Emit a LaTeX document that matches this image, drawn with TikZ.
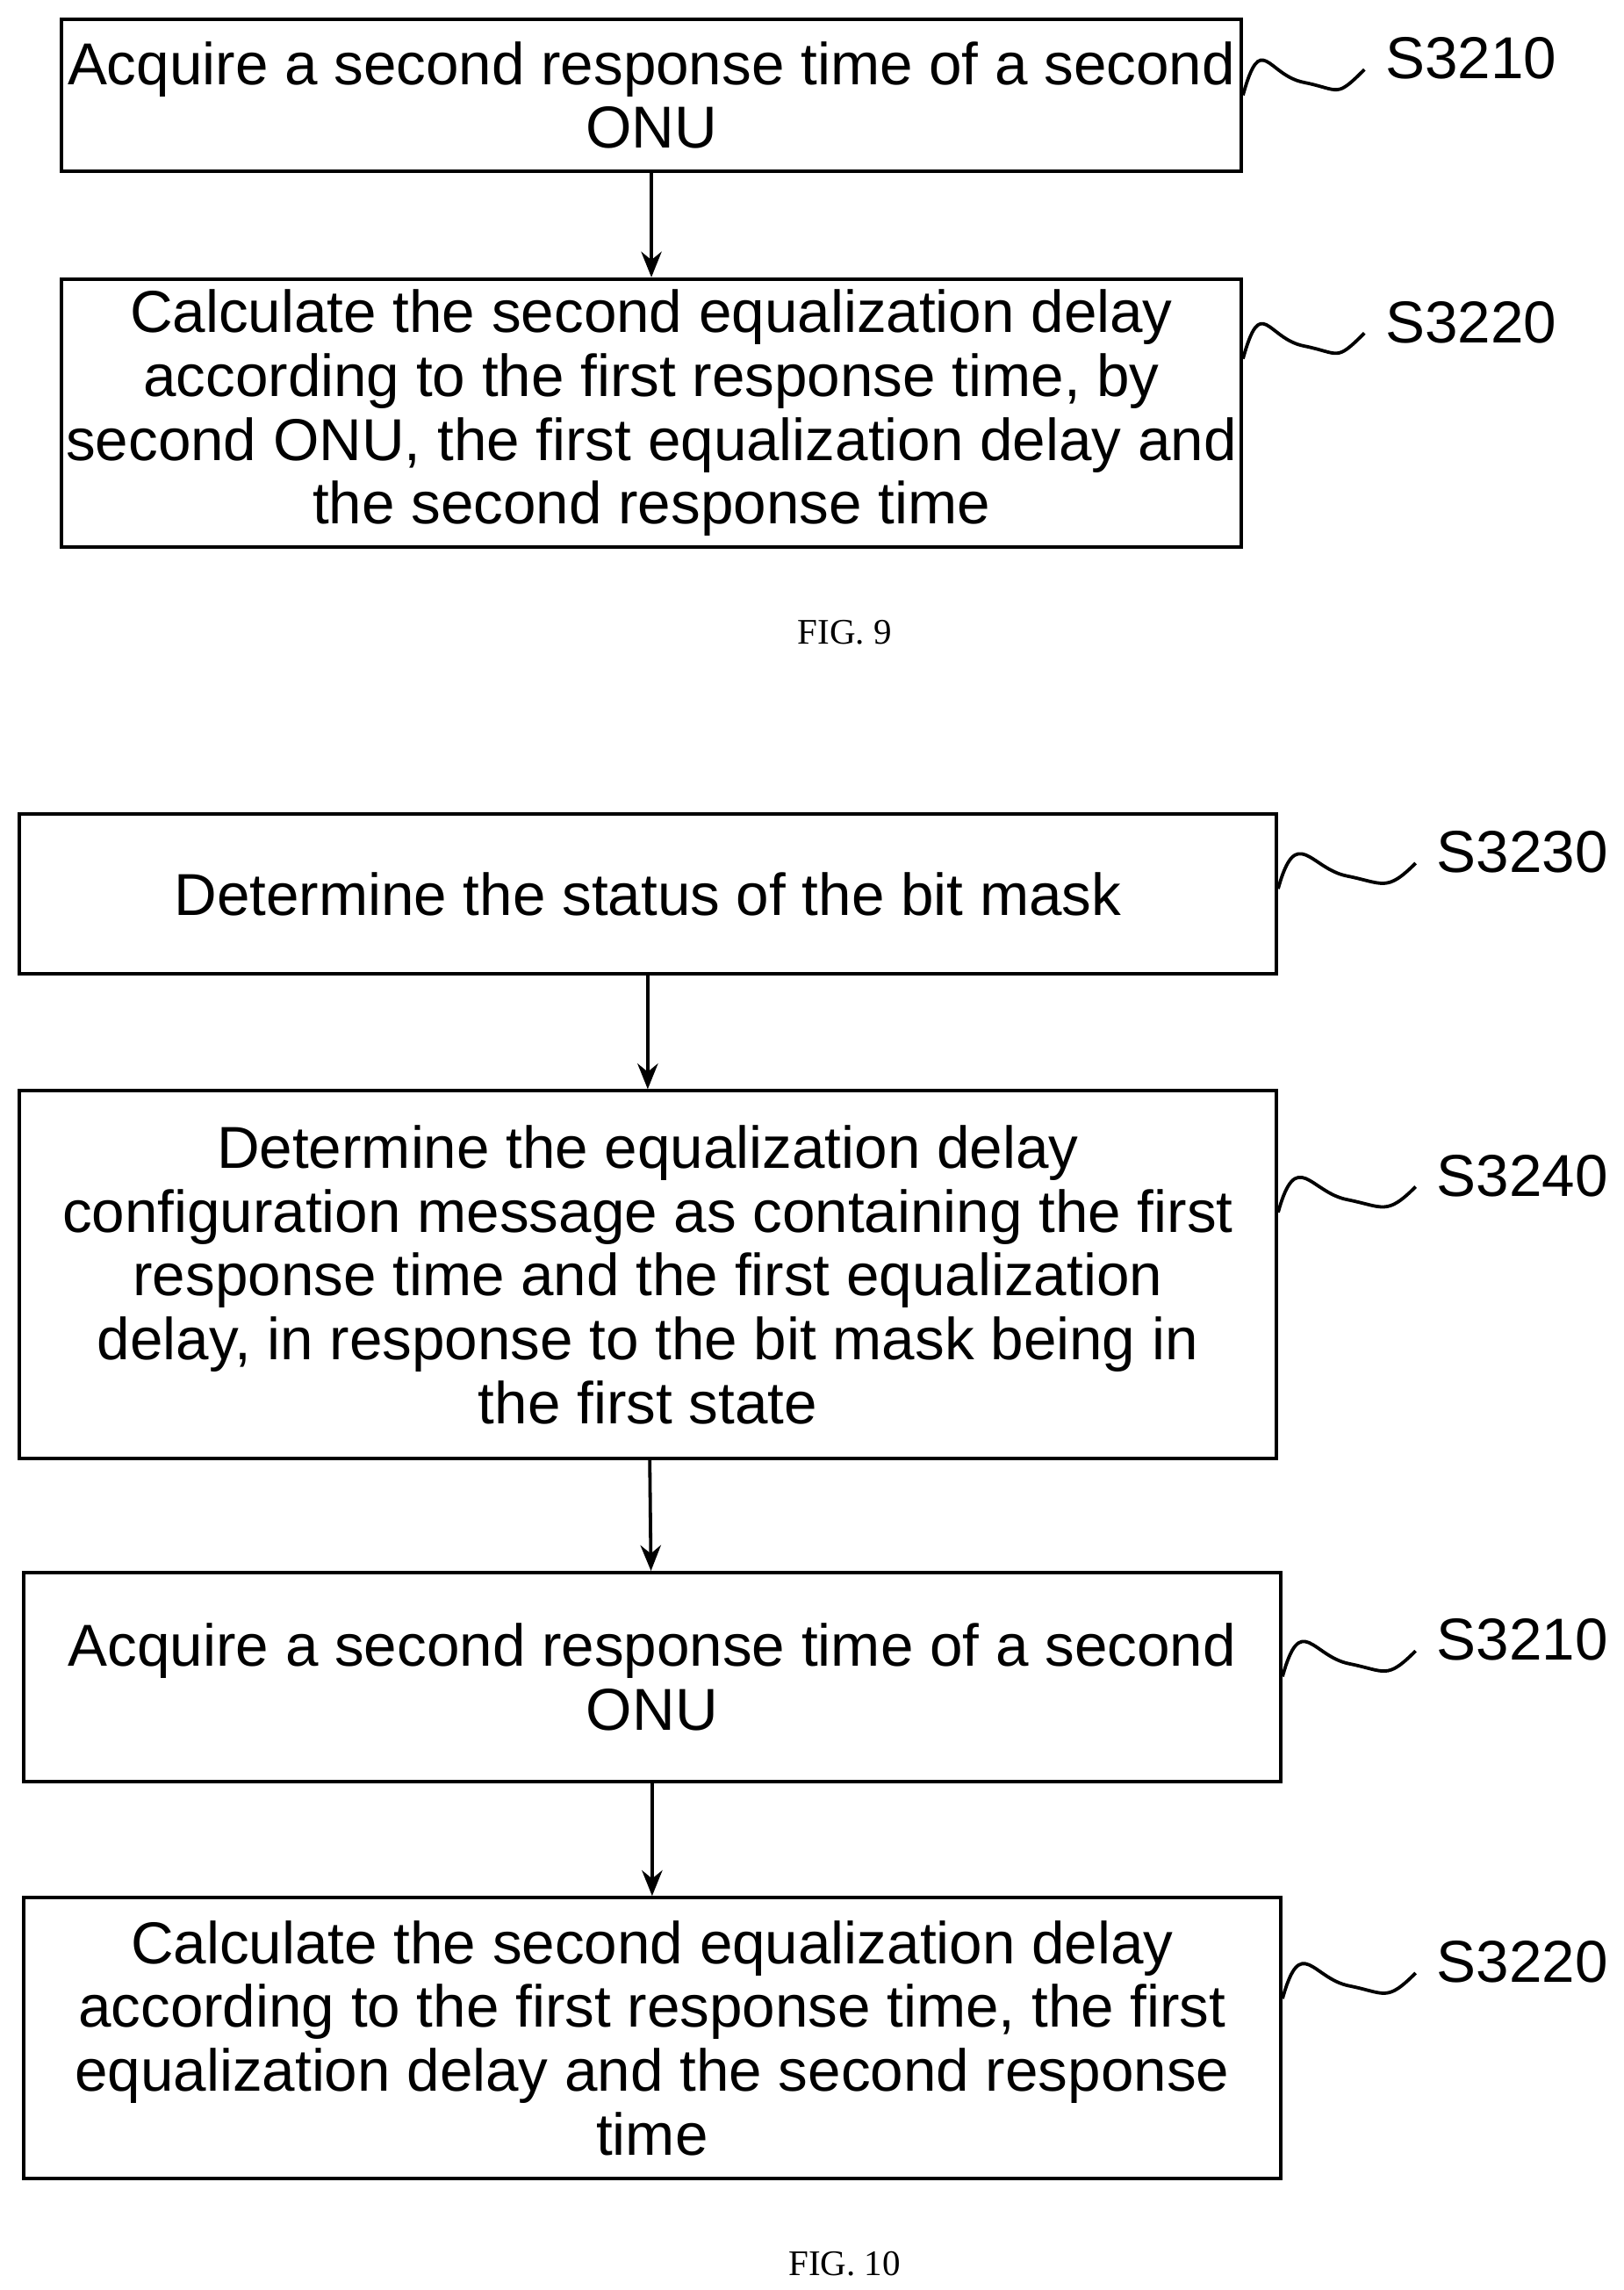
\documentclass[tikz,border=0pt]{standalone}
\usepackage{fontspec}
\setmainfont{Liberation Sans}
\newfontfamily\capfont{Liberation Serif}
\usetikzlibrary{arrows.meta,calc}
\newcommand\squig[2]{%
  \coordinate (#1s) at ([yshift=-0.5cm]#1.east |- #2.west);
  \coordinate (#1e) at ([xshift=-0.15cm,yshift=-0.15cm]#2.west);
  \draw (#1s) .. controls +(0.25,0.9) and +(-0.5,0.1) .. ($(#1s)!0.5!(#1e)$)
        .. controls +(0.5,-0.1) and +(-0.4,-0.4) .. (#1e);}
\begin{document}
\begin{tikzpicture}[line width=1.3pt, >={Stealth[length=3.5mm,width=2.8mm]},
  every node/.style={font=\fontsize{23}{24.8}\selectfont},
  stepbox/.style={draw, line width=1.3pt, align=center, inner sep=0pt},
  lab/.style={anchor=center},
  fig/.style={font=\capfont\fontsize{14}{16}\selectfont}]
  \useasboundingbox (0,0) rectangle (22.18,-31.28);

  % FIG. 9
  \node[stepbox, minimum width=16.12cm, minimum height=2.08cm] (a1) at (8.9,-1.3) {Acquire a second response time of a second\\ONU};
  \node[stepbox, minimum width=16.12cm, minimum height=3.66cm] (a2) at (8.9,-5.64) {Calculate the second equalization delay\\according to the first response time, by\\second ONU, the first equalization delay and\\the second response time};
  \node[lab] (la1) at (20.1,-0.8) {S3210};
  \node[lab] (la2) at (20.1,-4.4) {S3220};
  \node[fig] (f9) at (11.54,-8.64) {FIG. 9};
  \draw[->] (a1) -- (a2);
  \squig{a1}{la1}
  \squig{a2}{la2}

  % FIG. 10
  \node[stepbox, minimum width=17.18cm, minimum height=2.18cm] (b1) at (8.85,-12.21) {Determine the status of the bit mask};
  \node[stepbox, minimum width=17.18cm, minimum height=5.02cm] (b2) at (8.85,-17.41) {Determine the equalization delay\\configuration message as containing the first\\response time and the first equalization\\delay, in response to the bit mask being in\\the first state};
  \node[stepbox, minimum width=17.18cm, minimum height=2.86cm] (b3) at (8.91,-22.91) {Acquire a second response time of a second\\ONU};
  \node[stepbox, minimum width=17.18cm, minimum height=3.84cm] (b4) at (8.91,-27.84) {Calculate the second equalization delay\\according to the first response time, the first\\equalization delay and the second response\\time};
  \node[lab] (lb1) at (20.8,-11.64) {S3230};
  \node[lab] (lb2) at (20.8,-16.06) {S3240};
  \node[lab] (lb3) at (20.8,-22.4) {S3210};
  \node[lab] (lb4) at (20.8,-26.8) {S3220};
  \node[fig] (f10) at (11.54,-30.92) {FIG. 10};
  \draw[->] (b1) -- (b2);
  \draw[->] (b2) -- (b3);
  \draw[->] (b3) -- (b4);
  \squig{b1}{lb1}
  \squig{b2}{lb2}
  \squig{b3}{lb3}
  \squig{b4}{lb4}
\end{tikzpicture}
\end{document}
